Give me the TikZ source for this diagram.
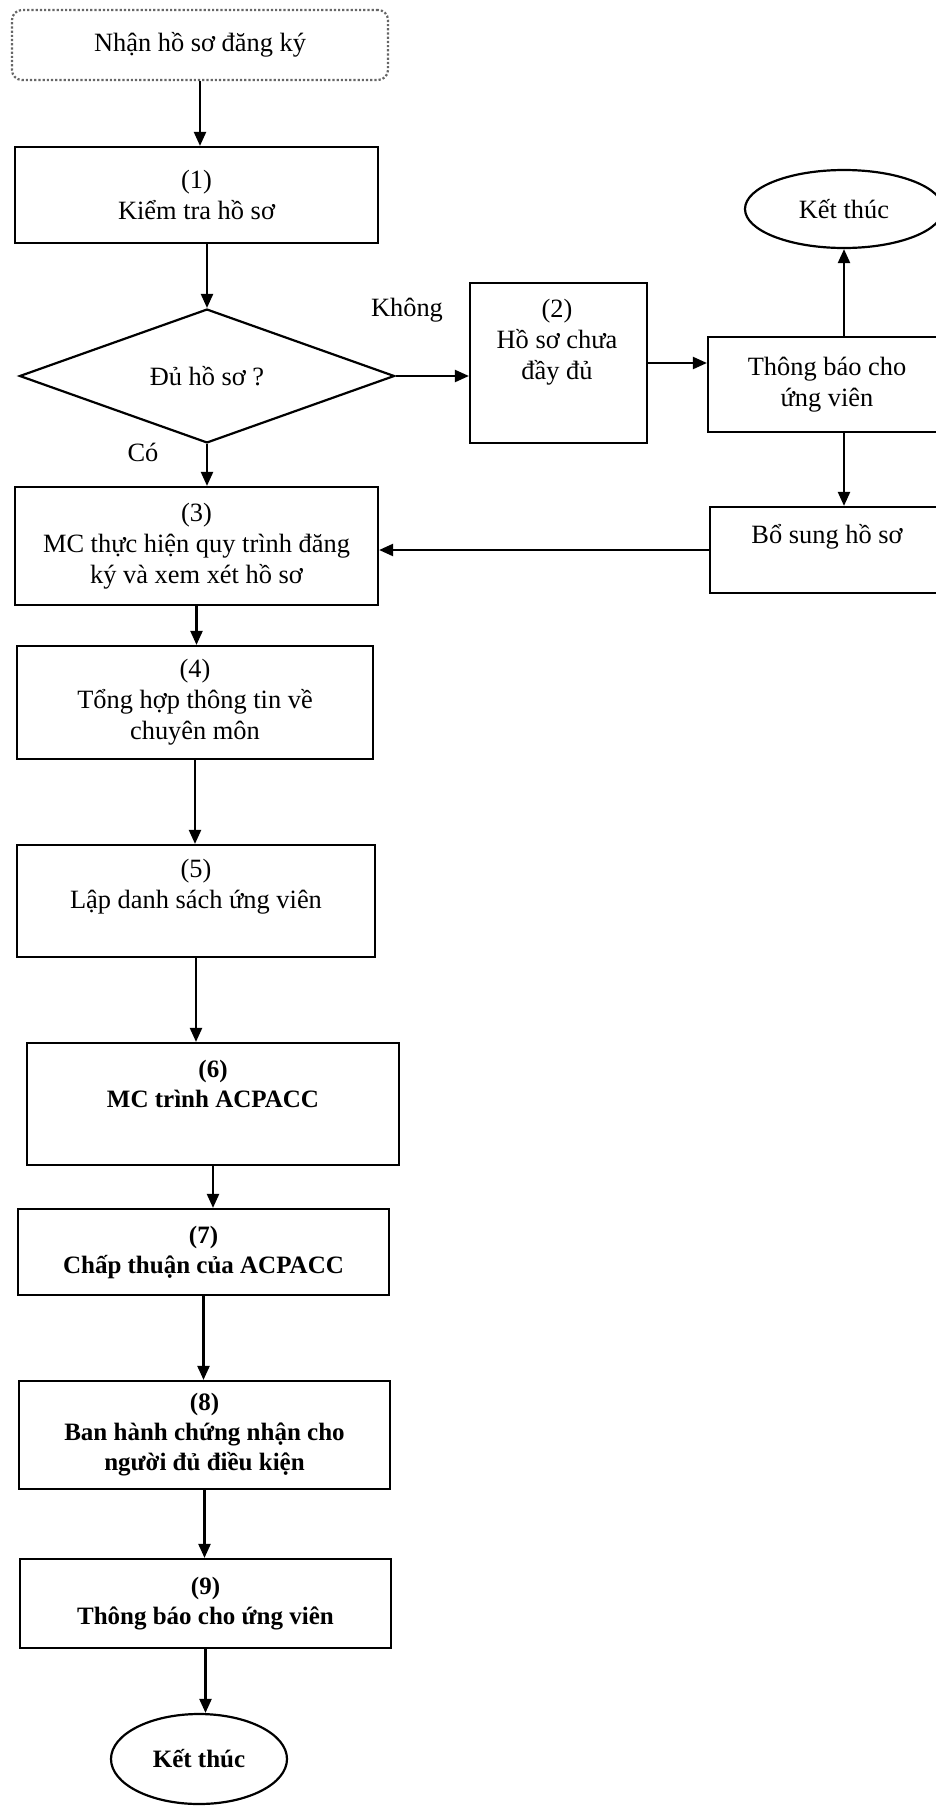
\documentclass[tikz,border=0pt]{standalone}
\usepackage{fontspec}
\setmainfont{Liberation Serif}
\usetikzlibrary{shapes.geometric,arrows.meta}

\tikzset{
    box/.style={draw,line width=1.1pt,align=center,inner sep=0pt},
    boldbox/.style={box,font=\fontsize{12.5}{15}\selectfont\bfseries},
    txt/.style={align=center,inner sep=0pt},
    arr/.style={line width=1.1pt,-{Triangle[length=7pt,width=6pt]}}
}

\begin{document}
\begin{tikzpicture}[x=0.5pt,y=-0.5pt,font=\fontsize{13.2}{15.5}\selectfont]
    \useasboundingbox (0,0) rectangle (936,1810);
    \node[box,rounded corners=5pt,densely dotted,draw=black!60,minimum width=188pt,minimum height=35pt] (start) at (200,45) {Nhận hồ sơ đăng ký};
    \node[box,minimum width=181.5pt,minimum height=48pt] (b1) at (196.5,195) {(1)\\Kiểm tra hồ sơ};
    \node[box,diamond,minimum width=187.5pt,minimum height=63pt] (dia) at (207,376) {Đủ hồ sơ ?};
    \node[txt] (khong) at (407,310) {Không};
    \node[txt] (co) at (143,452) {Có};
    \node[box,minimum width=88.5pt,minimum height=80pt] (b2) at (558.5,363) {};
    \node[txt] (t2) at (557,342) {(2)\\Hồ sơ chưa\\đầy đủ};
    \node[box,minimum width=119pt,minimum height=47.5pt] (tb) at (827,384.5) {Thông báo cho\\ứng viên};
    \node[box,ellipse,minimum width=99pt,minimum height=39pt] (endA) at (844,209) {Kết thúc};
    \node[box,minimum width=118pt,minimum height=43pt] (bs) at (828,550) {};
    \node[txt] (tbs) at (827,537) {Bổ sung hồ sơ};
    \node[box,minimum width=181.5pt,minimum height=59pt] (b3) at (196.5,546) {(3)\\MC thực hiện quy trình đăng\\ký và xem xét hồ sơ};
    \node[box,minimum width=178pt,minimum height=56.5pt] (b4) at (195,702.5) {(4)\\Tổng hợp thông tin về\\chuyên môn};
    \node[box,minimum width=179pt,minimum height=56pt] (b5) at (196,901) {};
    \node[txt] (t5) at (196,887) {(5)\\Lập danh sách ứng viên};
    \node[boldbox,minimum width=186pt,minimum height=61pt] (b6) at (213,1104) {};
    \node[txt,font=\fontsize{12.5}{15}\selectfont\bfseries] (t6) at (213,1084) {(6)\\MC trình ACPACC};
    \node[boldbox,minimum width=185.5pt,minimum height=43pt] (b7) at (203.5,1252) {(7)\\Chấp thuận của ACPACC};
    \node[boldbox,minimum width=185.5pt,minimum height=54pt] (b8) at (204.5,1435) {(8)\\Ban hành chứng nhận cho\\người đủ điều kiện};
    \node[boldbox,minimum width=185.5pt,minimum height=44.5pt] (b9) at (205.5,1603.5) {(9)\\Thông báo cho ứng viên};
    \node[boldbox,ellipse,minimum width=88pt,minimum height=45pt] (endB) at (199,1759) {Kết thúc};

    \draw[arr] (start.south) -- (start.south |- b1.north);
    \draw[arr] (b1.south -| dia.north) -- (dia.north);
    \draw[arr] (dia.east) -- (dia.east -| b2.west);
    \draw[arr] (b2.east) -- (b2.east -| tb.west);
    \draw[arr] (tb.north -| endA.south) -- (endA.south);
    \draw[arr] (endA.south |- tb.south) -- (endA.south |- bs.north);
    \draw[arr] (bs.west) -- (bs.west -| b3.east);
    \draw[arr] (dia.south) -- (dia.south |- b3.north);
    \draw[arr] (b3.south) -- (b3.south |- b4.north);
    \draw[arr] (b4.south) -- (b4.south |- b5.north);
    \draw[arr] (b5.south) -- (b5.south |- b6.north);
    \draw[arr] (b6.south) -- (b6.south |- b7.north);
    \draw[arr] (b7.south) -- (b7.south |- b8.north);
    \draw[arr] (b8.south) -- (b8.south |- b9.north);
    \draw[arr] (b9.south) -- (b9.south |- endB.north);
\end{tikzpicture}
\end{document}
